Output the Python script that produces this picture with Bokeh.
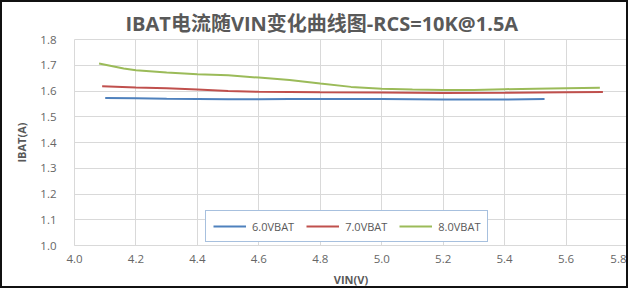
from bokeh.plotting import figure
from bokeh.models import FixedTicker, NumeralTickFormatter, Legend, LegendItem, Range1d
from bokeh.embed import file_html
from bokeh.resources import INLINE

title_text = "IBAT电流随VIN变化曲线图-RCS=10K@1.5A"
x_label = "VIN(V)"
y_label = "IBAT(A)"
x_ticks = [4.0, 4.2, 4.4, 4.6, 4.8, 5.0, 5.2, 5.4, 5.6, 5.8]
y_ticks = [1.0, 1.1, 1.2, 1.3, 1.4, 1.5, 1.6, 1.7, 1.8]

series_names = ["6.0VBAT", "7.0VBAT", "8.0VBAT"]
series_colors = ["#4F81BD", "#C0504D", "#9BBB59"]

vin_6 = [4.10, 4.20, 4.30, 4.40, 4.50, 4.60, 4.70, 4.80, 4.90, 5.00, 5.10, 5.20, 5.30, 5.40, 5.53]
ibat_6 = [1.573, 1.572, 1.570, 1.569, 1.568, 1.568, 1.569, 1.569, 1.569, 1.569, 1.568, 1.567, 1.567, 1.567, 1.569]

vin_7 = [4.09, 4.20, 4.30, 4.40, 4.50, 4.60, 4.80, 5.00, 5.20, 5.40, 5.60, 5.72]
ibat_7 = [1.618, 1.614, 1.611, 1.606, 1.600, 1.597, 1.595, 1.594, 1.592, 1.593, 1.595, 1.596]

vin_8 = [4.08, 4.16, 4.20, 4.30, 4.40, 4.50, 4.60, 4.70, 4.80, 4.90, 5.00, 5.10, 5.20, 5.30, 5.40, 5.50, 5.60, 5.71]
ibat_8 = [1.707, 1.687, 1.681, 1.672, 1.665, 1.661, 1.652, 1.643, 1.629, 1.616, 1.609, 1.606, 1.604, 1.604, 1.607, 1.609, 1.611, 1.613]

FONT = "Open Sans, Noto Sans CJK SC"

p = figure(width=628, height=288, output_backend="svg", toolbar_location=None,
           x_range=Range1d(4.0, 5.8), y_range=Range1d(1.0, 1.8),
           min_border_left=72, min_border_right=3, min_border_top=37, min_border_bottom=45,
           title=title_text)
p.styles = {"border": "2px solid #111111"}
p.background_fill_color = "white"
p.border_fill_color = "white"
p.outline_line_color = "#D9D9D9"

p.title.text_font = FONT
p.title.text_font_size = "20px"
p.title.text_font_style = "bold"
p.title.text_color = "#595959"
p.title.align = "left"
p.title.offset = 51
p.title.standoff = 6

for ax in (p.xaxis[0], p.yaxis[0]):
    ax.major_tick_out = 0
    ax.major_tick_in = 0
    ax.minor_tick_out = 0
    ax.minor_tick_in = 0
    ax.major_label_text_font = FONT
    ax.major_label_text_font_size = "11.5px"
    ax.major_label_text_color = "#666666"
    ax.axis_label_text_font = FONT
    ax.axis_label_text_font_size = "11px"
    ax.axis_label_text_font_style = "bold"
    ax.axis_label_text_color = "#595959"
    ax.formatter = NumeralTickFormatter(format="0.0")

p.xaxis.ticker = FixedTicker(ticks=x_ticks)
p.yaxis.ticker = FixedTicker(ticks=y_ticks)
p.xaxis.axis_label = x_label
p.yaxis.axis_label = y_label
p.xaxis.axis_line_color = "#D9D9D9"
p.yaxis.axis_line_color = None
p.xaxis.major_label_standoff = 9
p.xaxis.axis_label_standoff = 6
p.yaxis.major_label_standoff = 18
p.yaxis.axis_label_standoff = 8

p.xgrid.ticker = FixedTicker(ticks=x_ticks)
p.ygrid.ticker = FixedTicker(ticks=y_ticks)
p.xgrid.grid_line_color = "#D9D9D9"
p.ygrid.grid_line_color = "#D9D9D9"

xs = [vin_6, vin_7, vin_8]
ys = [ibat_6, ibat_7, ibat_8]
items = []
for name, color, x, y in zip(series_names, series_colors, xs, ys):
    r = p.line(x, y, line_color=color, line_width=2)
    items.append(LegendItem(label=name, renderers=[r]))

legend = Legend(items=items, orientation="horizontal", location=(131, 3))
legend.border_line_color = "#4F81BD"
legend.border_line_width = 1
legend.background_fill_color = "white"
legend.background_fill_alpha = 1.0
legend.padding = 7
legend.spacing = 12
legend.glyph_width = 33
legend.glyph_height = 16
legend.label_height = 16
legend.label_standoff = 6
legend.label_text_font = FONT
legend.label_text_font_size = "11px"
legend.label_text_color = "#595959"
legend.margin = 0
p.add_layout(legend, "center")

open("out.html", "w").write(file_html(p, INLINE))
